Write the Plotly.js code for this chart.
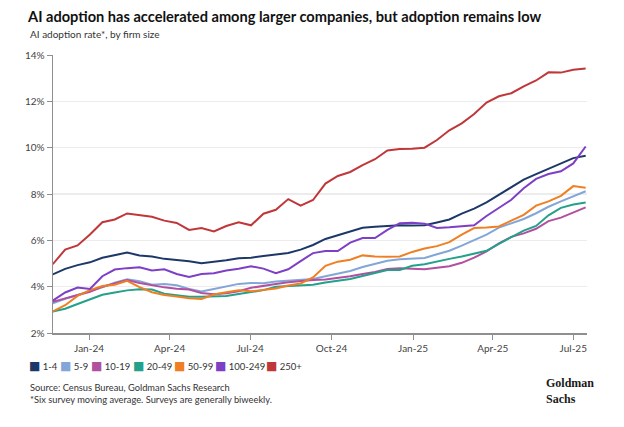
<!DOCTYPE html>
<html>
<head>
<meta charset="utf-8">
<script src="https://cdn.plot.ly/plotly-3.0.1.min.js"></script>
<style>html,body{margin:0;padding:0;background:#fff;}#chart{width:624px;height:427px;}</style>
</head>
<body>
<div id="chart"></div>
<script>
// Survey dates (biweekly)
const dates = [
  '2023-11-21','2023-12-05','2023-12-19','2024-01-02','2024-01-16','2024-01-30','2024-02-13','2024-02-27',
  '2024-03-12','2024-03-26','2024-04-09','2024-04-23','2024-05-07','2024-05-21','2024-06-04','2024-06-18',
  '2024-07-02','2024-07-16','2024-07-30','2024-08-13','2024-08-27','2024-09-10','2024-09-24','2024-10-08',
  '2024-10-22','2024-11-05','2024-11-19','2024-12-03','2024-12-17','2024-12-31','2025-01-14','2025-01-28',
  '2025-02-11','2025-02-25','2025-03-11','2025-03-25','2025-04-08','2025-04-22','2025-05-06','2025-05-20',
  '2025-06-03','2025-06-17','2025-07-01','2025-07-15'
];

const seriesNames = ['1-4','5-9','10-19','20-49','50-99','100-249','250+'];

// AI adoption rate (%), six-survey moving average
const size1to4 = [4.53,4.77,4.93,5.05,5.25,5.36,5.47,5.35,5.30,5.20,5.15,5.10,5.01,5.06,5.14,5.23,5.25,5.32,5.38,5.45,
  5.60,5.80,6.06,6.22,6.38,6.54,6.59,6.62,6.65,6.64,6.65,6.77,6.90,7.15,7.37,7.64,7.96,8.30,8.62,8.86,9.10,9.33,9.55,9.65];
const size5to9 = [3.28,3.48,3.64,3.80,3.97,4.17,4.32,4.24,4.08,4.12,4.06,3.90,3.79,3.90,4.02,4.12,4.16,4.15,4.22,4.26,
  4.29,4.33,4.45,4.55,4.68,4.85,5.00,5.12,5.18,5.22,5.24,5.40,5.55,5.77,6.00,6.25,6.55,6.75,6.92,7.17,7.45,7.68,7.90,8.12];
const size10to19 = [3.35,3.50,3.62,3.78,4.00,4.16,4.29,4.16,4.06,3.97,3.91,3.88,3.73,3.67,3.72,3.80,3.95,4.05,4.12,4.19,
  4.25,4.29,4.31,4.37,4.45,4.55,4.63,4.76,4.79,4.77,4.75,4.82,4.88,5.03,5.25,5.52,5.87,6.15,6.30,6.50,6.83,6.98,7.20,7.42];
const size20to49 = [2.93,3.05,3.25,3.45,3.65,3.75,3.84,3.89,3.88,3.70,3.62,3.57,3.57,3.57,3.60,3.68,3.75,3.85,4.00,4.03,
  4.07,4.08,4.18,4.25,4.33,4.46,4.60,4.72,4.72,4.90,4.97,5.10,5.20,5.30,5.42,5.55,5.85,6.15,6.42,6.62,7.08,7.40,7.55,7.63];
const size50to99 = [2.93,3.20,3.60,3.85,4.03,4.08,4.25,3.98,3.76,3.64,3.58,3.50,3.47,3.66,3.76,3.84,3.80,3.85,3.92,4.05,
  4.14,4.40,4.90,5.08,5.16,5.35,5.30,5.29,5.30,5.50,5.65,5.75,5.92,6.25,6.53,6.55,6.60,6.85,7.10,7.50,7.68,7.92,8.34,8.27];
const size100to249 = [3.40,3.75,3.96,3.90,4.45,4.74,4.80,4.84,4.70,4.75,4.55,4.42,4.55,4.58,4.70,4.77,4.88,4.78,4.58,4.75,
  5.10,5.45,5.54,5.54,5.90,6.10,6.10,6.45,6.74,6.76,6.72,6.53,6.56,6.60,6.65,7.05,7.40,7.75,8.25,8.65,8.86,8.98,9.32,10.05];
const size250plus = [4.97,5.60,5.78,6.25,6.78,6.90,7.16,7.09,7.02,6.85,6.75,6.45,6.53,6.38,6.62,6.78,6.65,7.15,7.32,7.78,
  7.50,7.74,8.45,8.78,8.95,9.25,9.50,9.88,9.94,9.95,10.00,10.33,10.75,11.05,11.45,11.95,12.22,12.35,12.65,12.90,13.25,13.24,13.36,13.42];

const seriesValues = [size1to4,size5to9,size10to19,size20to49,size50to99,size100to249,size250plus];
const seriesColors = ['#1d3868','#83a6d8','#b1509e','#24a08b','#ef7f22','#7d3fc6','#c0373a'];

const yTickVals = [2,4,6,8,10,12,14];
const xTickStart = '2024-01-01';

const traces = seriesValues.map((vals, i) => ({
  type: 'scatter', mode: 'lines', name: seriesNames[i],
  x: dates, y: vals,
  line: {color: seriesColors[i], width: 2},
  showlegend: false, hoverinfo: 'x+y+name'
}));

// geometry helpers (pixel -> paper) for annotations
const W = 624, H = 427, L = 53, R = 37, T = 55, B = 94;
const pw = W - L - R, ph = H - T - B;
const px = x => (x - L) / pw;
const py = y => (H - B - y) / ph;

const fontMain = 'Lato, "Open Sans", "DejaVu Sans", sans-serif';

const annotations = [
  {text: 'AI adoption rate*, by firm size', x: px(28), y: py(34), xanchor: 'left', yanchor: 'middle',
   font: {family: fontMain, size: 10, color: '#333'}},
  {text: 'Source: Census Bureau, Goldman Sachs Research', x: px(28), y: py(387), xanchor: 'left', yanchor: 'middle',
   font: {family: fontMain, size: 9.3, color: '#333'}},
  {text: '*Six survey moving average. Surveys are generally biweekly.', x: px(28), y: py(399), xanchor: 'left', yanchor: 'middle',
   font: {family: fontMain, size: 9.3, color: '#333'}},
  {text: '<b>Goldman<br>Sachs</b>', x: px(544), y: py(391), xanchor: 'left', yanchor: 'middle', align: 'left',
   font: {family: '"Liberation Serif", serif', size: 12, color: '#1a1a1a'}}
];

// custom legend (square swatch + label) laid out in one row
const legendX = [27, 58, 89, 131, 172, 213, 264];
seriesNames.forEach((n, i) => {
  annotations.push({
    text: '<span style="color:' + seriesColors[i] + ';font-size:12px">■</span>&nbsp;' + n,
    x: px(legendX[i]), y: py(365), xanchor: 'left', yanchor: 'middle',
    font: {family: fontMain, size: 9.5, color: '#333'}
  });
});
annotations.forEach(a => { a.xref = 'paper'; a.yref = 'paper'; a.showarrow = false; });

const layout = {
  width: W, height: H,
  margin: {l: L, r: R, t: T, b: B},
  paper_bgcolor: '#fff', plot_bgcolor: '#fff',
  title: {text: '<b>AI adoption has accelerated among larger companies, but adoption remains low</b>',
    xref: 'container', yref: 'container', x: 28 / W, xanchor: 'left', y: 1 - 17 / H, yanchor: 'middle',
    font: {family: fontMain, size: 14.6, color: '#111'}},
  xaxis: {
    type: 'date', range: ['2023-11-21 06:00', '2025-07-16 12:00'],
    tick0: xTickStart, dtick: 'M3', tickformat: '%b-%y',
    showgrid: false, zeroline: false,
    showline: true, linecolor: '#8f8f8f', linewidth: 2,
    ticks: 'outside', ticklen: 5, tickcolor: '#8f8f8f', tickwidth: 1,
    tickfont: {family: fontMain, size: 10, color: '#444'}
  },
  yaxis: {
    range: [2, 14], tickvals: yTickVals, ticktext: yTickVals.map(v => v + '%'),
    showgrid: true, gridcolor: '#ececec', gridwidth: 1.5, zeroline: false,
    showline: true, linecolor: '#8f8f8f', linewidth: 1.5,
    ticks: 'outside', ticklen: 5, tickcolor: '#8f8f8f', tickwidth: 1,
    tickfont: {family: fontMain, size: 10, color: '#444'}
  },
  annotations: annotations,
  showlegend: false
};

Plotly.newPlot('chart', traces, layout, {displayModeBar: false, staticPlot: true});
</script>
</body>
</html>
